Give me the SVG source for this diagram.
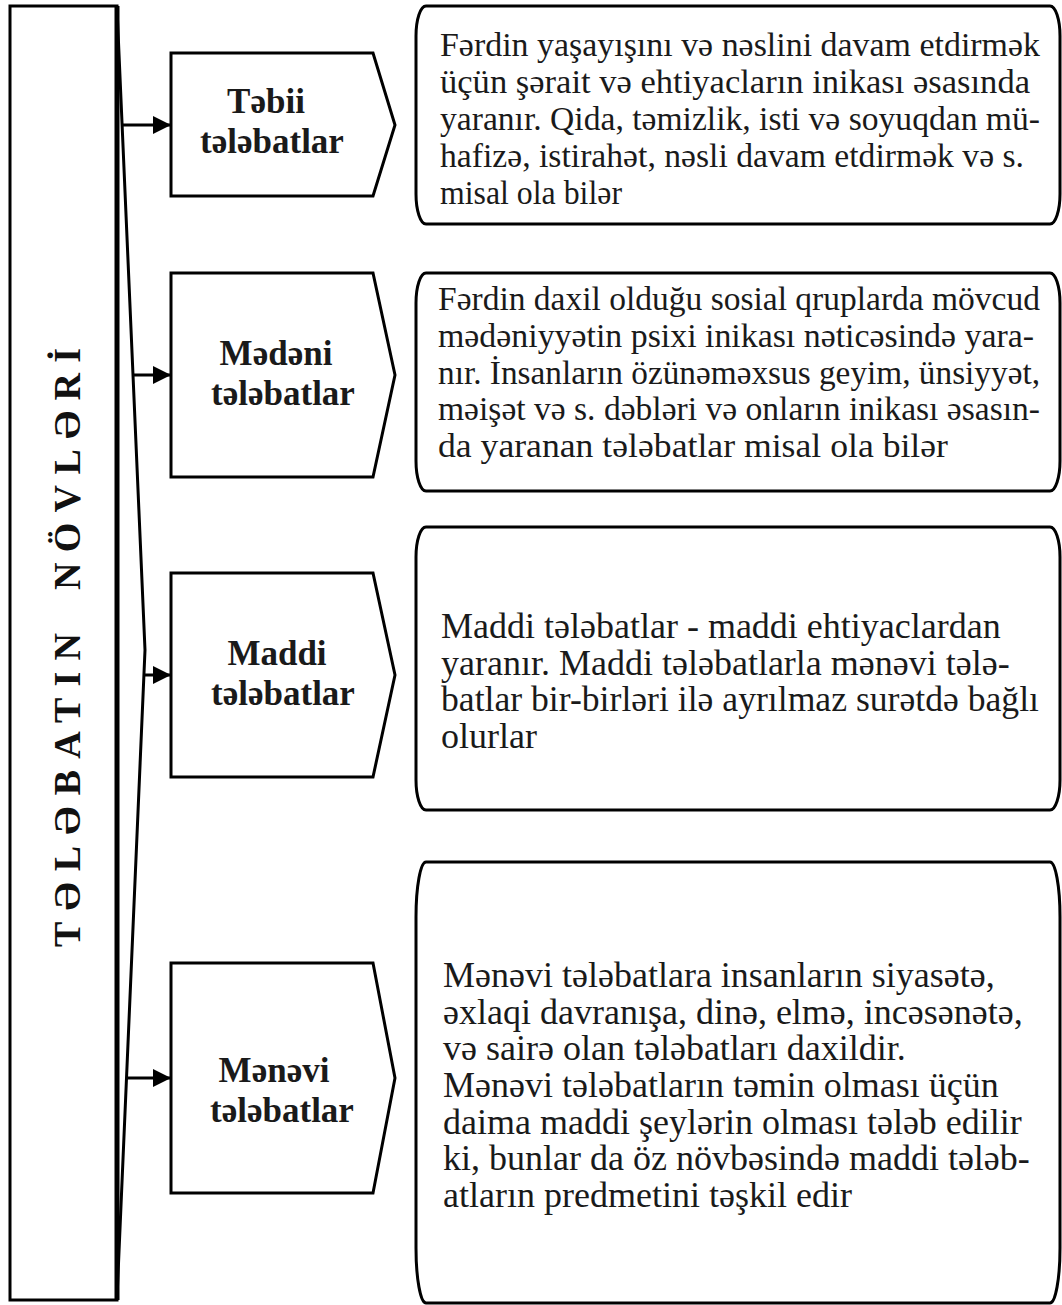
<svg xmlns="http://www.w3.org/2000/svg" width="1062" height="1305" viewBox="0 0 1062 1305">
<defs>
<style>
.shape{fill:#fff;stroke:#000;stroke-width:3;stroke-linejoin:miter}
.conn{fill:none;stroke:#000;stroke-width:3}
.title{font-family:'Liberation Serif',serif;font-weight:bold;font-size:38px;fill:#111}
.lbl{font-family:'Liberation Serif',serif;font-weight:bold;font-size:35px;fill:#1a1a1a;text-anchor:middle}
.body{font-family:'Liberation Serif',serif;font-size:36px;fill:#1a1a1a}
.dense{font-size:34px}
</style>
<marker id="ah" viewBox="0 0 10 10" refX="10" refY="5" markerWidth="18" markerHeight="20" markerUnits="userSpaceOnUse" orient="auto">
<path d="M0,0 L10,5 L0,10 z" fill="#000"/>
</marker>
</defs>
<rect width="1062" height="1305" fill="#fff"/>

<g id="title-bar">
<rect x="10" y="6" width="107" height="1294" class="shape"/>
<line x1="117" y1="6" x2="117" y2="1300" stroke="#000" stroke-width="5"/>
<text class="title" transform="translate(80,947) rotate(-90)" textLength="314" lengthAdjust="spacing">TƏLƏBATIN</text>
<text class="title" transform="translate(80,590) rotate(-90)" textLength="242" lengthAdjust="spacing">NÖVLƏRİ</text>
</g>

<g id="connectors">
<polyline class="conn" stroke-width="2.5" points="117,8 145,650 117,1298"/>
<line class="conn" x1="122" y1="125" x2="171" y2="125" marker-end="url(#ah)"/>
<line class="conn" x1="133" y1="375" x2="171" y2="375" marker-end="url(#ah)"/>
<line class="conn" x1="144" y1="675" x2="171" y2="675" marker-end="url(#ah)"/>
<line class="conn" x1="126" y1="1078" x2="171" y2="1078" marker-end="url(#ah)"/>
</g>

<g id="node-tebii">
<polygon class="shape" points="171,53 373,53 395,125 373,196 171,196"/>
<text class="lbl" x="266" y="113">Təbii</text>
<text class="lbl" x="272" y="153">tələbatlar</text>
</g>
<g id="node-medeni">
<polygon class="shape" points="171,273 373,273 395,375 373,477 171,477"/>
<text class="lbl" x="276" y="365">Mədəni</text>
<text class="lbl" x="283" y="405">tələbatlar</text>
</g>
<g id="node-maddi">
<polygon class="shape" points="171,573 373,573 395,675 373,777 171,777"/>
<text class="lbl" x="277" y="665">Maddi</text>
<text class="lbl" x="283" y="705">tələbatlar</text>
</g>
<g id="node-menevi">
<polygon class="shape" points="171,963 373,963 395,1078 373,1193 171,1193"/>
<text class="lbl" x="274" y="1082">Mənəvi</text>
<text class="lbl" x="282" y="1122">tələbatlar</text>
</g>

<g id="desc-tebii">
<rect class="shape" x="416" y="6" width="644" height="218" rx="10" ry="30"/>
<text class="body dense" x="440" y="56" textLength="600" lengthAdjust="spacingAndGlyphs">Fərdin yaşayışını və nəslini davam etdirmək</text>
<text class="body dense" x="440" y="93" textLength="590" lengthAdjust="spacingAndGlyphs">üçün şərait və ehtiyacların inikası əsasında</text>
<text class="body dense" x="440" y="130" textLength="600" lengthAdjust="spacingAndGlyphs">yaranır. Qida, təmizlik, isti və soyuqdan mü-</text>
<text class="body dense" x="440" y="167" textLength="584" lengthAdjust="spacingAndGlyphs">hafizə, istirahət, nəsli davam etdirmək və s.</text>
<text class="body dense" x="440" y="204" textLength="182" lengthAdjust="spacingAndGlyphs">misal ola bilər</text>
</g>
<g id="desc-medeni">
<rect class="shape" x="416" y="273" width="644" height="218" rx="10" ry="30"/>
<text class="body dense" x="438" y="310" textLength="602" lengthAdjust="spacingAndGlyphs">Fərdin daxil olduğu sosial qruplarda mövcud</text>
<text class="body dense" x="438" y="347" textLength="596" lengthAdjust="spacingAndGlyphs">mədəniyyətin psixi inikası nəticəsində yara-</text>
<text class="body dense" x="438" y="384" textLength="602" lengthAdjust="spacingAndGlyphs">nır. İnsanların özünəməxsus geyim, ünsiyyət,</text>
<text class="body dense" x="438" y="420" textLength="602" lengthAdjust="spacingAndGlyphs">məişət və s. dəbləri və onların inikası əsasın-</text>
<text class="body dense" x="438" y="457" textLength="510" lengthAdjust="spacingAndGlyphs">da yaranan tələbatlar misal ola bilər</text>
</g>
<g id="desc-maddi">
<rect class="shape" x="416" y="527" width="644" height="283" rx="10" ry="30"/>
<text class="body" x="441" y="638">Maddi tələbatlar - maddi ehtiyaclardan</text>
<text class="body" x="441" y="675">yaranır. Maddi tələbatlarla mənəvi tələ-</text>
<text class="body" x="441" y="711" textLength="598" lengthAdjust="spacingAndGlyphs">batlar bir-birləri ilə ayrılmaz surətdə bağlı</text>
<text class="body" x="441" y="748">olurlar</text>
</g>
<g id="desc-menevi">
<rect class="shape" x="416" y="862" width="644" height="441" rx="10" ry="55"/>
<text class="body" x="443" y="987">Mənəvi tələbatlara insanların siyasətə,</text>
<text class="body" x="443" y="1024">əxlaqi davranışa, dinə, elmə, incəsənətə,</text>
<text class="body" x="443" y="1060">və sairə olan tələbatları daxildir.</text>
<text class="body" x="443" y="1097">Mənəvi tələbatların təmin olması üçün</text>
<text class="body" x="443" y="1134">daima maddi şeylərin olması tələb edilir</text>
<text class="body" x="443" y="1170">ki, bunlar da öz növbəsində maddi tələb-</text>
<text class="body" x="443" y="1207">atların predmetini təşkil edir</text>
</g>
</svg>
